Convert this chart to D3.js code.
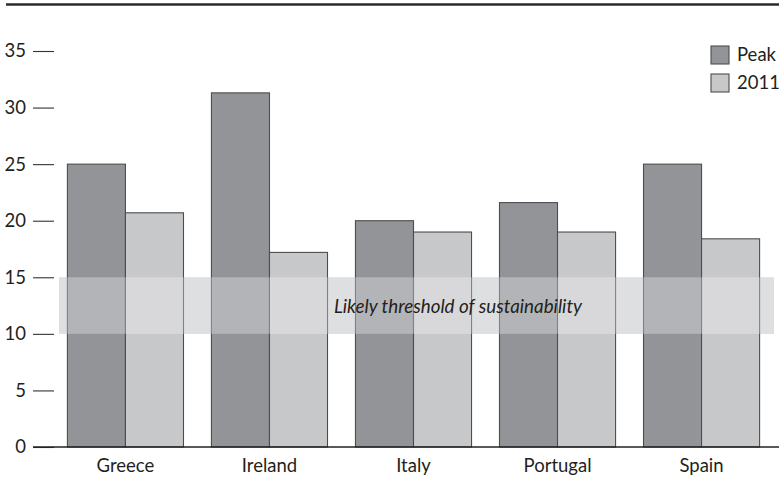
<!DOCTYPE html>
<html>
<head>
<meta charset="utf-8">
<script src="https://cdn.jsdelivr.net/npm/d3@7/dist/d3.min.js"></script>
<style>
  html, body { margin: 0; padding: 0; background: #fff; }
  svg { display: block; }
  text { font-family: Lato, "Open Sans", sans-serif; fill: #231f20; }
</style>
</head>
<body>
<svg id="chart" width="779" height="480"></svg>
<script>
const categories = ["Greece", "Ireland", "Italy", "Portugal", "Spain"];
const seriesNames = ["Peak", "2011"];
const peakValues = [25.0, 31.3, 20.0, 21.6, 25.0];
const values2011 = [20.7, 17.2, 19.0, 19.0, 18.4];
const yTicks = [0, 5, 10, 15, 20, 25, 30, 35];
const thresholdRange = [10, 15];
const thresholdLabel = "Likely threshold of sustainability";

const colors = { "Peak": "#939498", "2011": "#c7c8ca" };

const svg = d3.select("#chart");
const W = 779, H = 480;
const plot = { left: 54, right: 774, top: 51, bottom: 447 };
const fs = 18.5;

const y = d3.scaleLinear().domain([0, 35]).range([plot.bottom, plot.top]);
const x = d3.scaleBand().domain(categories).range([53, plot.right])
  .paddingInner(0.194).paddingOuter(0.1);
const xs = d3.scaleBand().domain(seriesNames).range([0, x.bandwidth()]).padding(0);

// top rule
svg.append("line").attr("x1", 6).attr("x2", W).attr("y1", 4.5).attr("y2", 4.5)
  .attr("stroke", "#2b2b2b").attr("stroke-width", 2.6);

// threshold band underlay
const bandX0 = plot.left + 5;
svg.append("rect")
  .attr("x", bandX0).attr("width", plot.right - bandX0)
  .attr("y", y(thresholdRange[1])).attr("height", y(thresholdRange[0]) - y(thresholdRange[1]))
  .attr("fill", "#d0d1d4");

// bars
const data = categories.map((c, i) => ({ cat: c, vals: [
  { s: "Peak", v: peakValues[i] }, { s: "2011", v: values2011[i] } ] }));

const g = svg.append("g").selectAll("g").data(data).join("g")
  .attr("transform", d => `translate(${x(d.cat)},0)`);
g.selectAll("rect").data(d => d.vals).join("rect")
  .attr("x", d => xs(d.s))
  .attr("width", xs.bandwidth())
  .attr("y", d => y(d.v))
  .attr("height", d => y(0) - y(d.v))
  .attr("fill", d => colors[d.s])
  .attr("stroke", "#4d4d4f")
  .attr("stroke-width", 1.1);

// threshold band overlay (lightening)
svg.append("rect")
  .attr("x", bandX0).attr("width", plot.right - bandX0)
  .attr("y", y(thresholdRange[1])).attr("height", y(thresholdRange[0]) - y(thresholdRange[1]))
  .attr("fill", "#ffffff").attr("fill-opacity", 0.3);

svg.append("text")
  .attr("x", 458).attr("y", (y(thresholdRange[0]) + y(thresholdRange[1])) / 2)
  .attr("dy", "0.42em").attr("text-anchor", "middle")
  .attr("font-style", "italic").attr("font-size", 18.8)
  .text(thresholdLabel);

// y axis
const yAxis = d3.axisLeft(y).tickValues(yTicks).tickSize(21).tickPadding(7);
const ya = svg.append("g").attr("transform", `translate(${plot.left},0)`).call(yAxis);
ya.select(".domain").remove();
ya.selectAll(".tick line").attr("stroke", "#333").attr("stroke-width", 1.1);
ya.selectAll(".tick text").attr("font-size", fs).attr("font-family", "Lato, sans-serif").attr("fill", "#231f20");

// baseline
svg.append("line").attr("x1", 33).attr("x2", W).attr("y1", y(0)).attr("y2", y(0))
  .attr("stroke", "#222").attr("stroke-width", 1.5);

// x axis labels
const xAxis = d3.axisBottom(x).tickSize(0).tickPadding(12);
const xa = svg.append("g").attr("transform", `translate(0,${y(0)})`).call(xAxis);
xa.select(".domain").remove();
xa.selectAll(".tick text").attr("font-size", fs).attr("font-family", "Lato, sans-serif").attr("fill", "#231f20");

// legend
const legend = svg.append("g").attr("transform", "translate(711,46)");
const li = legend.selectAll("g").data(seriesNames).join("g")
  .attr("transform", (d, i) => `translate(0,${i * 28})`);
li.append("rect").attr("width", 18).attr("height", 18)
  .attr("fill", d => colors[d]).attr("stroke", "#4d4d4f").attr("stroke-width", 1.1);
li.append("text").attr("x", 26).attr("y", 9).attr("dy", "0.35em")
  .attr("font-size", fs).text(d => d);
</script>
</body>
</html>
